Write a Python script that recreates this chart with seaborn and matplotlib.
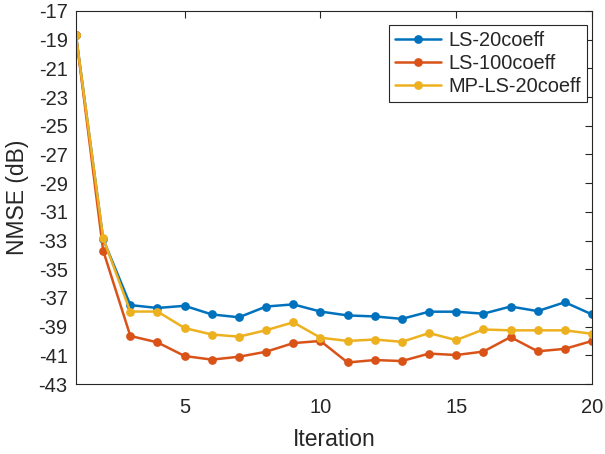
import numpy as np
import pandas as pd
import seaborn as sns
import matplotlib
matplotlib.use("Agg")
import matplotlib.pyplot as plt

iterations = list(range(1, 21))
ls20 = [-18.7, -32.9, -37.5, -37.7, -37.55, -38.15, -38.35, -37.6, -37.45, -37.95,
        -38.22, -38.29, -38.46, -37.96, -37.96, -38.1, -37.6, -37.92, -37.3, -38.15]
ls100 = [-18.7, -33.7, -39.65, -40.1, -41.05, -41.3, -41.1, -40.75, -40.15, -40.0,
         -41.5, -41.33, -41.4, -40.88, -40.98, -40.74, -39.73, -40.72, -40.55, -40.0]
mpls20 = [-18.7, -32.85, -37.95, -37.95, -39.1, -39.55, -39.7, -39.25, -38.7, -39.77,
          -40.0, -39.9, -40.06, -39.45, -39.94, -39.2, -39.26, -39.26, -39.26, -39.5]
series_names = ["LS-20coeff", "LS-100coeff", "MP-LS-20coeff"]
colors = ["#0072BD", "#D95319", "#EDB120"]
yticks = list(range(-17, -44, -2))
xticks = [5, 10, 15, 20]

df = pd.concat([
    pd.DataFrame({"Iteration": iterations, "NMSE": vals, "Series": name})
    for name, vals in zip(series_names, [ls20, ls100, mpls20])
])

sns.set_style("white")
plt.rcParams['font.family'] = ['Liberation Sans', 'DejaVu Sans']
plt.rcParams['axes.unicode_minus'] = False

fig = plt.figure(figsize=(6.05, 4.54), dpi=100)
ax = fig.add_axes([76/605, 1 - 384/454, (592-76)/605, (384-11)/454])
sns.lineplot(data=df, x="Iteration", y="NMSE", hue="Series", palette=colors,
             marker="o", markersize=6.3, markeredgewidth=0, linewidth=1.8, ax=ax,
             legend=True)

ax.set_xlim(1, 20)
ax.set_ylim(-43, -17)
ax.set_yticks(yticks)
ax.set_xticks(xticks)
ax.set_xlabel("Iteration", fontsize=16.5, color="#262626", labelpad=8)
ax.set_ylabel("NMSE (dB)", fontsize=16.5, color="#262626", labelpad=7)
ax.tick_params(direction="in", top=True, right=True, labelsize=14.5,
               colors="#262626", length=5, width=0.8)
ax.tick_params(axis="x", pad=10)
ax.tick_params(axis="y", pad=6)
for s in ax.spines.values():
    s.set_color("#262626")
    s.set_linewidth(0.8)

leg = ax.legend(loc="upper right", fontsize=14.4, frameon=True, fancybox=False,
                edgecolor="#262626", framealpha=1, borderpad=0.3,
                handlelength=2.3, handletextpad=0.35, labelspacing=0.2,
                borderaxespad=0, bbox_to_anchor=(511/516, 359/373))
leg.get_frame().set_linewidth(0.8)

fig.savefig("out.png", dpi=100)
